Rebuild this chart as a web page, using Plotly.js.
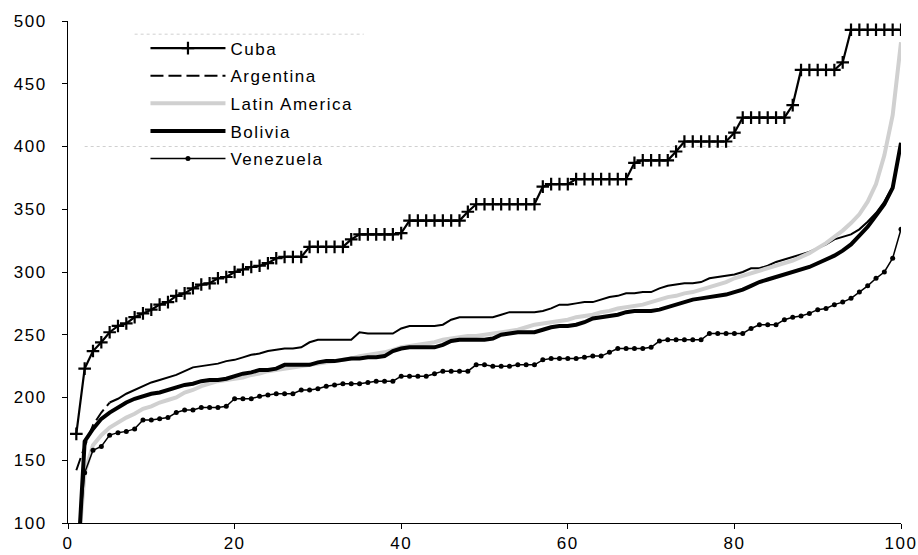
<!DOCTYPE html>
<html><head><meta charset="utf-8">
<script src="https://cdn.plot.ly/plotly-3.0.1.min.js"></script>
<style>
html,body{margin:0;padding:0;background:#fff;}
#chart{width:918px;height:555px;}
#chart .legendtext, #chart .xtick text, #chart .ytick text {letter-spacing:1.5px;}
#chart .legend .scrollbox{clip-path:none !important;}
</style></head><body><div id="chart"></div>
<script>
const percentiles = Array.from({length:100},(_,i)=>i+1);
const cuba = [171,223,237,244,252,257,259,264,267,270,274,276,281,283,287,290,291,295,296,300,
302,304,305,307,311,312,312,312,320,320,320,320,320,326,330,330,330,330,330,331,
341,341,341,341,341,341,341,348,354,354,354,354,354,354,354,354,368,370,370,370,
374,374,374,374,374,374,374,387,389,389,389,389,396,404,404,404,404,404,404,411,
423,423,423,423,423,423,433,461,461,461,461,461,467,493,493,493,493,493,493,493];
const argentina = [142,161,178,188,196,199,203,206,209,212,214,216,218,221,224,225,226,227,229,230,
232,234,235,237,238,239,239,240,244,246,246,246,246,246,252,251,251,251,251,255,
257,257,257,257,258,262,264,264,264,264,264,266,268,268,268,268,269,271,274,274,
275,276,276,278,280,281,283,283,284,284,287,289,290,291,291,292,295,296,297,298,
300,303,303,305,308,310,312,314,316,319,322,326,328,330,334,340,347,356,368,402];
const latinAmerica = [60,140,162,170,176,180,184,187,191,193,196,198,200,204,206,209,211,213,214,215,
216,218,219,221,222,223,224,225,226,227,228,229,230,231,233,234,235,236,238,240,
241,242,243,244,246,247,248,249,249,250,251,252,253,254,256,258,259,260,261,262,
264,265,266,268,269,271,272,273,274,276,278,280,281,283,284,286,288,290,292,295,
297,299,301,303,305,307,309,312,315,319,323,328,333,339,346,356,370,393,425,483];
const bolivia = [47,165,175,183,188,192,196,199,201,203,204,206,208,210,211,213,214,214,215,217,
219,220,222,222,223,226,226,226,226,228,229,229,230,231,231,232,232,233,237,239,
240,240,240,240,242,245,246,246,246,246,247,250,251,252,252,252,254,256,257,257,
258,260,263,264,265,266,268,269,269,269,270,272,274,276,278,279,280,281,282,284,
286,289,292,294,296,298,300,302,304,307,310,313,317,322,329,336,345,354,367,403];
const venezuela = [67,140,158,161,170,172,173,175,182,182,183,184,188,190,190,192,192,192,193,199,
199,199,201,202,203,203,203,206,206,207,209,210,211,211,211,212,213,213,213,217,
217,217,217,219,221,221,221,221,226,226,225,225,225,226,226,226,230,231,231,231,
231,232,233,233,236,239,239,239,239,240,245,246,246,246,246,246,251,251,251,251,
251,255,258,258,258,262,264,265,267,270,271,274,276,279,284,289,295,300,311,334];
const seriesNames = ['Cuba','Argentina','Latin America','Bolivia','Venezuela'];
const xTicks = [0,20,40,60,80,100];
const yTicks = [100,150,200,250,300,350,400,450,500];

const dashEnd = 5;
const traces = [
  {x: percentiles, y: cuba, name: seriesNames[0], legendgroup:'g1', mode:'lines+markers',
   line:{color:'#000', width:2.2},
   marker:{symbol:'cross-thin', size:9, line:{color:'#000', width:2.2}}},
  {x: percentiles.slice(0,dashEnd), y: argentina.slice(0,dashEnd), name: seriesNames[1], legendgroup:'g2', mode:'lines',
   line:{color:'#000', width:2, dash:'13px,5px'}},
  {x: percentiles.slice(dashEnd-1), y: argentina.slice(dashEnd-1), name: seriesNames[1], legendgroup:'g2', showlegend:false, mode:'lines',
   line:{color:'#000', width:2}},
  {x: percentiles, y: latinAmerica, name: seriesNames[2], legendgroup:'g3', mode:'lines',
   line:{color:'#d0d0d0', width:4}},
  {x: percentiles, y: bolivia, name: seriesNames[3], legendgroup:'g4', mode:'lines',
   line:{color:'#000', width:4}},
  {x: percentiles, y: venezuela, name: seriesNames[4], legendgroup:'g5', mode:'lines+markers',
   line:{color:'#000', width:1.5},
   marker:{symbol:'circle', size:5, color:'#000'}}
];

const font = {family:'"Liberation Sans", Arial, sans-serif', size:17, color:'#000'};
const layout = {
  width:918, height:555,
  margin:{l:68, r:17, t:21, b:32},
  paper_bgcolor:'#fff', plot_bgcolor:'#fff',
  font: font,
  showlegend:true,
  legend:{x:0.093, y:0.981, xanchor:'left', yanchor:'top', bgcolor:'rgba(0,0,0,0)',
          traceorder:'grouped', tracegroupgap:2.5, itemwidth:75, font:font},
  xaxis:{range:[0,100], tickvals:xTicks, ticks:'outside', ticklen:5, tickcolor:'#000',
         showline:true, linecolor:'#000', linewidth:1, showgrid:false, zeroline:false,
         tickfont:font, ticklabelstandoff:0},
  yaxis:{range:[100,500], tickvals:yTicks, ticks:'outside', ticklen:5, tickcolor:'#000',
         showline:true, linecolor:'#000', linewidth:1, showgrid:false, zeroline:false,
         tickfont:font, ticklabelstandoff:12},
  shapes:[
    {type:'line', xref:'x', yref:'y', x0:2, x1:100, y0:400, y1:400, layer:'below',
     line:{color:'#d0d0d0', width:1, dash:'dot'}},
    {type:'line', xref:'x', yref:'y', x0:8, x1:35.5, y0:489.5, y1:489.5, layer:'below',
     line:{color:'#d0d0d0', width:1, dash:'dot'}}
  ]
};
Plotly.newPlot('chart', traces, layout, {displayModeBar:false, staticPlot:true});
</script></body></html>
